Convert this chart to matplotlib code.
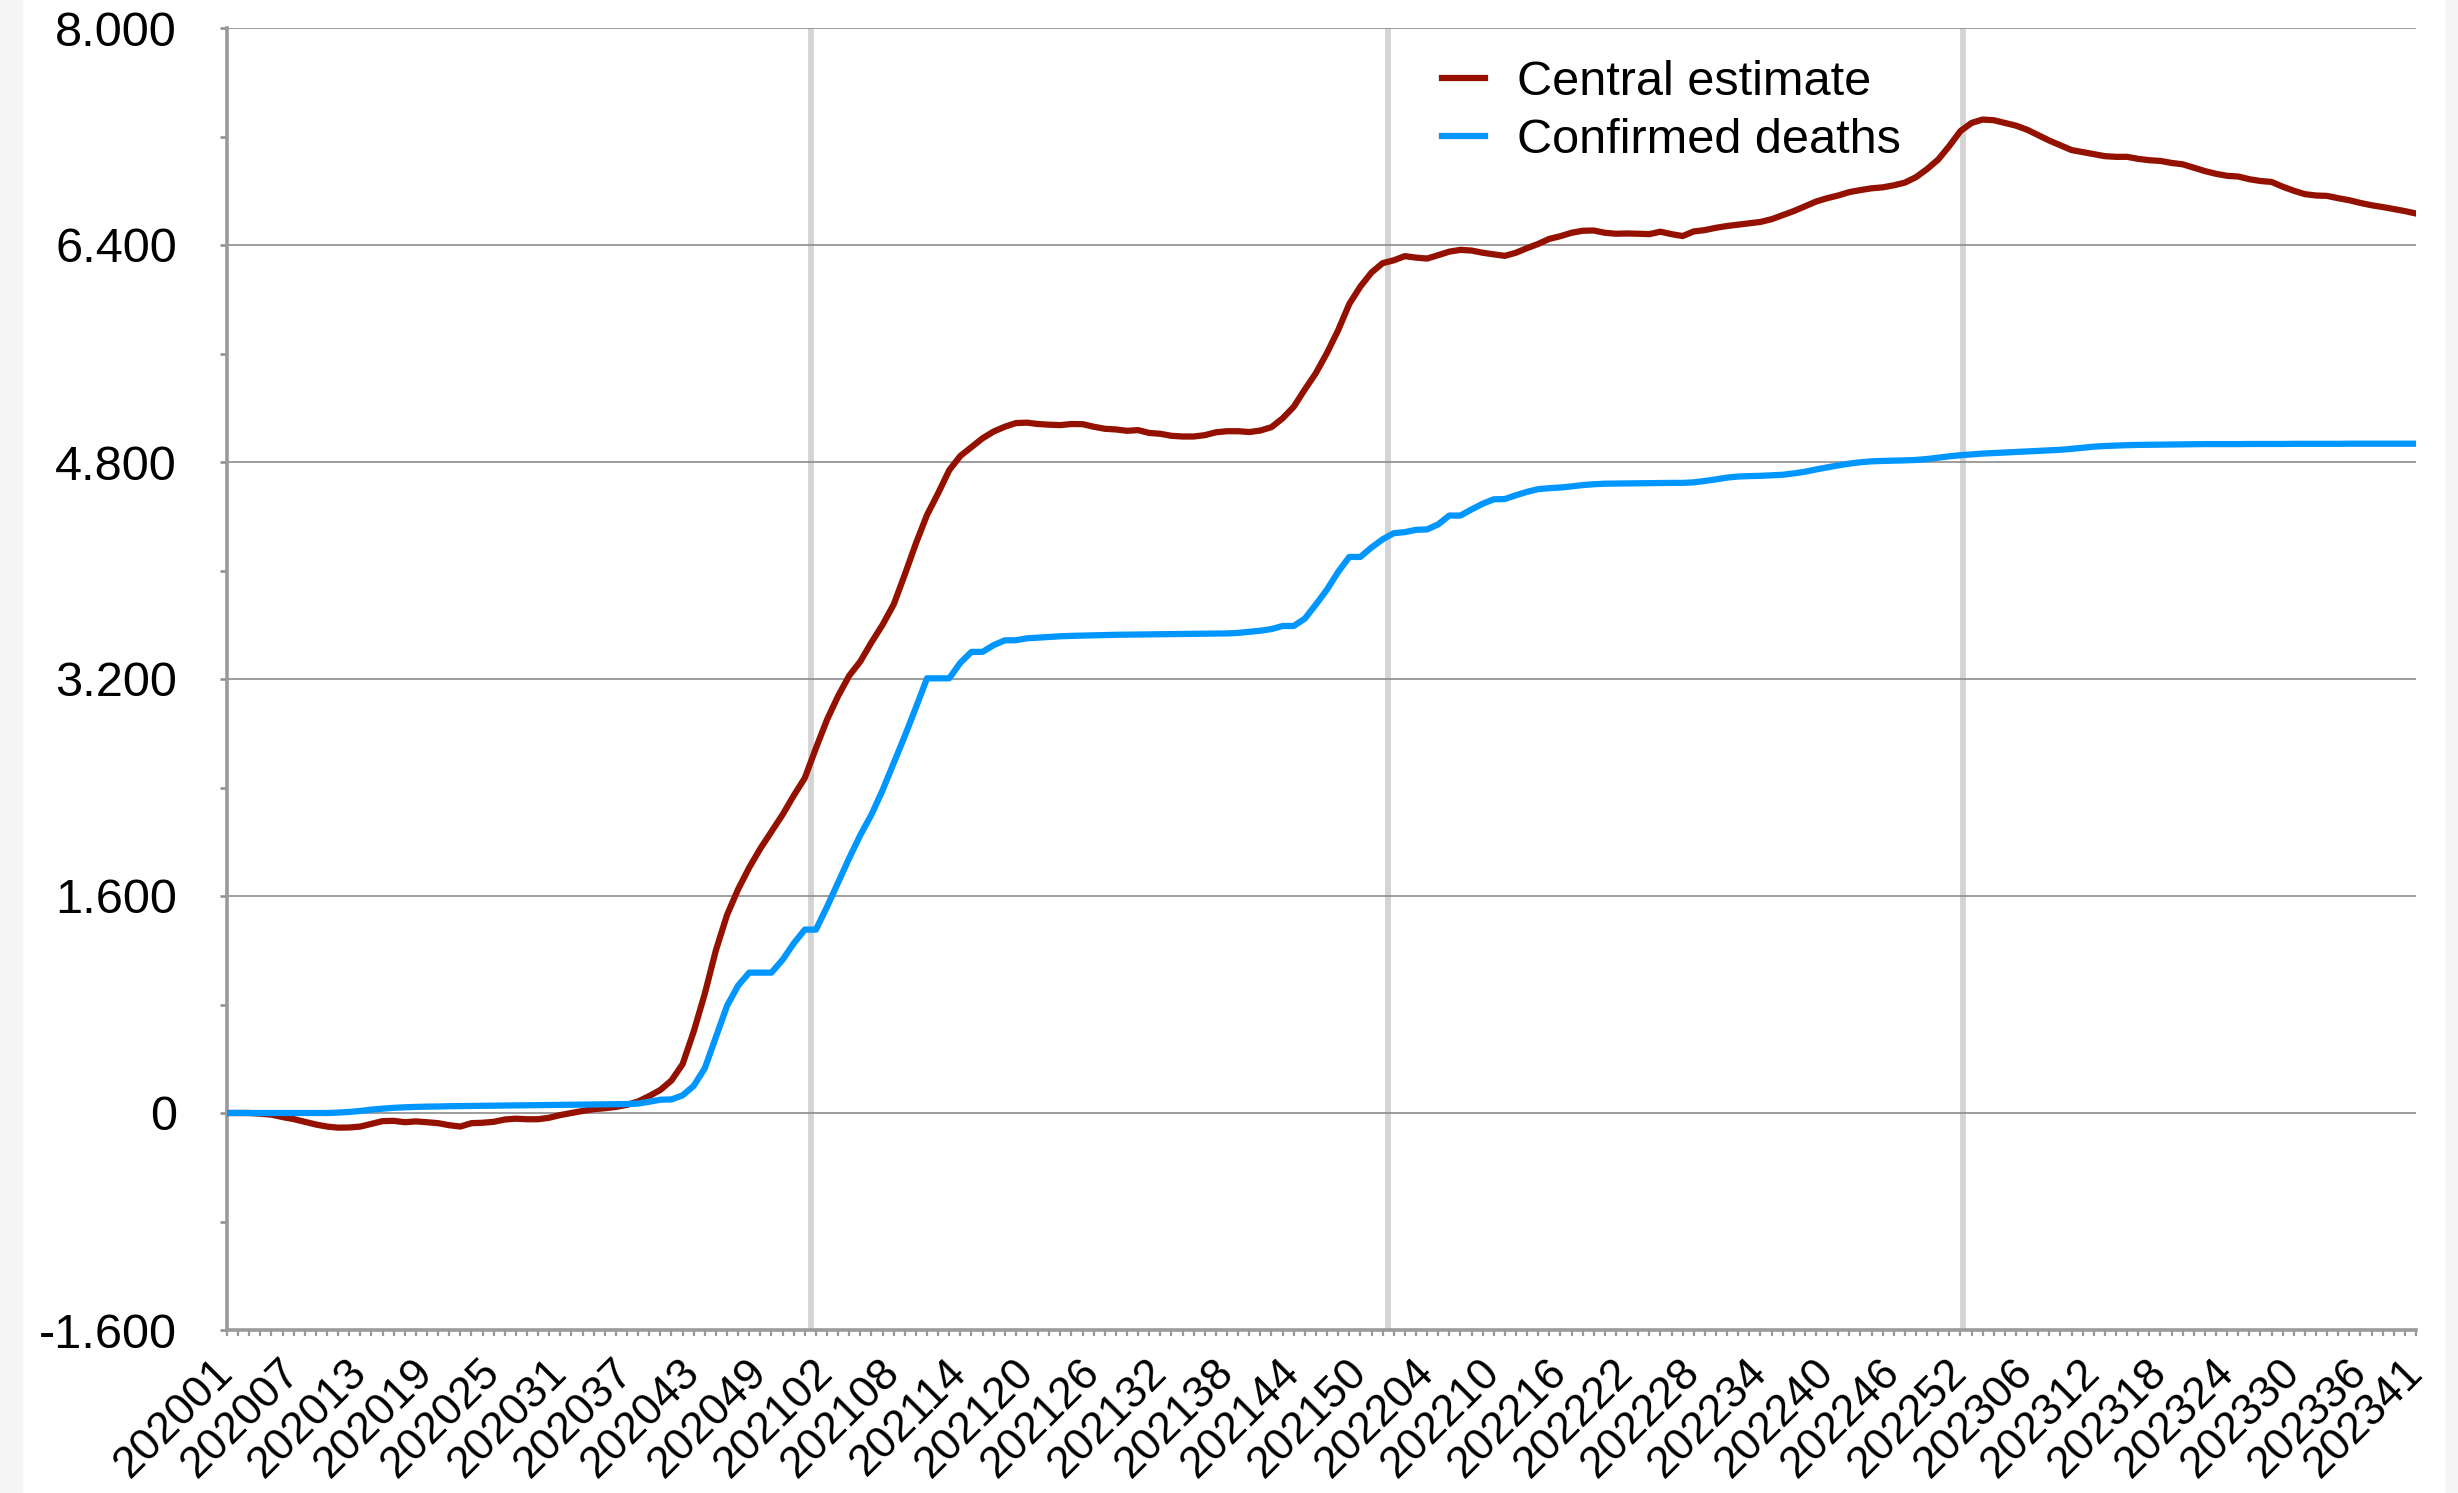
import matplotlib
matplotlib.use("Agg")
import matplotlib.pyplot as plt
from matplotlib.patches import Rectangle
from matplotlib.ticker import FuncFormatter, MultipleLocator

plt.rcParams['font.family'] = ['Liberation Sans', 'DejaVu Sans']

# ISO weeks per year shown on the x axis (2020 has 53 weeks, data stops at 2023 week 41)
years = [2020, 2021, 2022, 2023]
weeks_per_year = [53, 52, 52, 41]
week_labels = [f"{y}{w:02d}" for y, n in zip(years, weeks_per_year) for w in range(1, n + 1)]

# year boundaries (position along the week index)
year_lines = [52.6, 104.5, 156.2]

central_estimate = [
    0, 0, 0, -5, -12, -30, -45, -65, -85, -100,
    -108, -107, -100, -80, -60, -58, -68, -62, -68, -75,
    -90, -100, -75, -72, -65, -48, -42, -46, -46, -35,
    -15, 0, 15, 28, 35, 45, 60, 85, 125, 170,
    240, 360, 600, 880, 1200, 1460, 1650, 1810, 1950, 2075,
    2200, 2340, 2470, 2690, 2900, 3075, 3225, 3330, 3470, 3600,
    3750, 3970, 4200, 4410, 4570, 4740, 4845, 4910, 4975, 5025,
    5060, 5087, 5090, 5080, 5075, 5072, 5080, 5079, 5060, 5045,
    5040, 5030, 5035, 5014, 5008, 4993, 4988, 4988, 4998, 5019,
    5027, 5027, 5021, 5032, 5057, 5122, 5207, 5335, 5456, 5605,
    5772, 5965, 6094, 6197, 6266, 6287, 6318, 6307, 6300, 6325,
    6351, 6364, 6359, 6343, 6331, 6320, 6343, 6377, 6408, 6445,
    6465, 6490, 6505, 6507, 6490, 6483, 6485, 6483, 6480, 6498,
    6480, 6466, 6500, 6510, 6527, 6540, 6550, 6560, 6570, 6590,
    6620, 6650, 6685, 6720, 6745, 6765, 6790, 6805, 6818, 6825,
    6840, 6860, 6900, 6960, 7030, 7130, 7240, 7300, 7325, 7320,
    7300, 7280, 7250, 7210, 7170, 7135, 7100, 7085, 7070, 7055,
    7050, 7050, 7035, 7025, 7020, 7005, 6995, 6970, 6945, 6925,
    6910, 6905, 6885, 6872, 6865, 6830, 6800, 6775, 6765, 6762,
    6745, 6730, 6710, 6693, 6680, 6665, 6650, 6632,
]

confirmed_deaths = [
    0, 0, 0, 0, 0, 0, 0, 0, 0, 0,
    3, 8, 15, 25, 32, 38, 42, 45, 47, 48,
    50, 51, 52, 53, 54, 55, 56, 57, 58, 59,
    60, 61, 62, 63, 64, 65, 66, 70, 83, 98,
    100, 130, 200, 330, 560, 790, 940, 1035, 1035, 1035,
    1130, 1250, 1352, 1352, 1520, 1700, 1880, 2050, 2200, 2380,
    2580, 2780, 2990, 3205, 3205, 3205, 3320, 3400, 3400, 3450,
    3485, 3486, 3500, 3505, 3510, 3515, 3518, 3520, 3522, 3524,
    3526, 3527, 3528, 3529, 3530, 3531, 3532, 3533, 3534, 3535,
    3536, 3540, 3548, 3556, 3568, 3591, 3591, 3645, 3750, 3860,
    3990, 4100, 4100, 4170, 4230, 4275, 4283, 4300, 4303, 4340,
    4405, 4405, 4450, 4492, 4525, 4527, 4555, 4580, 4600, 4607,
    4612, 4620, 4630, 4636, 4640, 4641, 4642, 4643, 4644, 4645,
    4646, 4646, 4650, 4660, 4672, 4685, 4693, 4696, 4698, 4702,
    4706, 4716, 4728, 4745, 4760, 4775, 4788, 4798, 4805, 4808,
    4810, 4812, 4815, 4822, 4832, 4842, 4850, 4856, 4862, 4866,
    4870, 4874, 4878, 4882, 4886, 4890, 4897, 4905, 4913, 4918,
    4921, 4924, 4926, 4927, 4928, 4929, 4930, 4931, 4932, 4932,
    4932, 4932, 4933, 4933, 4933, 4933, 4934, 4934, 4934, 4934,
    4934, 4935, 4935, 4935, 4935, 4935, 4935, 4935,
]

x = list(range(len(week_labels)))
label_idx = list(range(0, len(x), 6)) + [len(x) - 1]

fig = plt.figure(figsize=(24.58, 14.93), dpi=100, facecolor='white')
# light grey strips at the image edges
fig.add_artist(Rectangle((0, 0), 22 / 2458, 1, transform=fig.transFigure, color='#f5f5f5', zorder=0))
fig.add_artist(Rectangle((2446 / 2458, 0), 12 / 2458, 1, transform=fig.transFigure, color='#f5f5f5', zorder=0))

ax = fig.add_axes([227 / 2458, 1 - 1330 / 1493, 2189 / 2458, 1302 / 1493])

for xl in year_lines:
    ax.axvline(xl, color='#d4d4d4', lw=4.2, zorder=1)

ax.plot(x, central_estimate, color='#941100', lw=4.5, label='Central estimate', zorder=3,
        solid_joinstyle='round')
ax.plot(x, confirmed_deaths, color='#0096FF', lw=4.5, label='Confirmed deaths', zorder=3,
        solid_joinstyle='round')

ax.set_xlim(0, len(x) - 1)
ax.set_ylim(-1600, 8000)

# y axis
ax.yaxis.set_major_locator(MultipleLocator(1600))
ax.yaxis.set_minor_locator(MultipleLocator(800))
ax.yaxis.set_major_formatter(FuncFormatter(lambda v, p: f"{v:,.0f}".replace(",", ".")))
ax.grid(axis='y', which='major', color='#8c8c8c', lw=1.2, zorder=0)
ax.tick_params(axis='y', which='both', length=5, width=1.8, color='#8c8c8c',
               labelsize=35, pad=31)

# x axis
ax.set_xticks(label_idx)
ax.set_xticklabels([week_labels[i] for i in label_idx], rotation=45, ha='right',
                   va='center', rotation_mode='anchor')
ax.set_xticks(x, minor=True)
ax.tick_params(axis='x', which='both', length=4, width=1.6, color='#9a9a9a',
               labelsize=32, pad=22)

for s in ['top', 'right']:
    ax.spines[s].set_visible(False)
ax.spines['left'].set_color('#9a9a9a')
ax.spines['left'].set_linewidth(2.6)
ax.spines['bottom'].set_color('#9a9a9a')
ax.spines['bottom'].set_linewidth(2.6)

ax.legend(loc='upper left', bbox_to_anchor=(0.546, 0.99), frameon=False, fontsize=35,
          handlelength=0.9, handletextpad=0.65, labelspacing=0.26, borderaxespad=0)

fig.savefig('out.png', dpi=100, facecolor='white')
